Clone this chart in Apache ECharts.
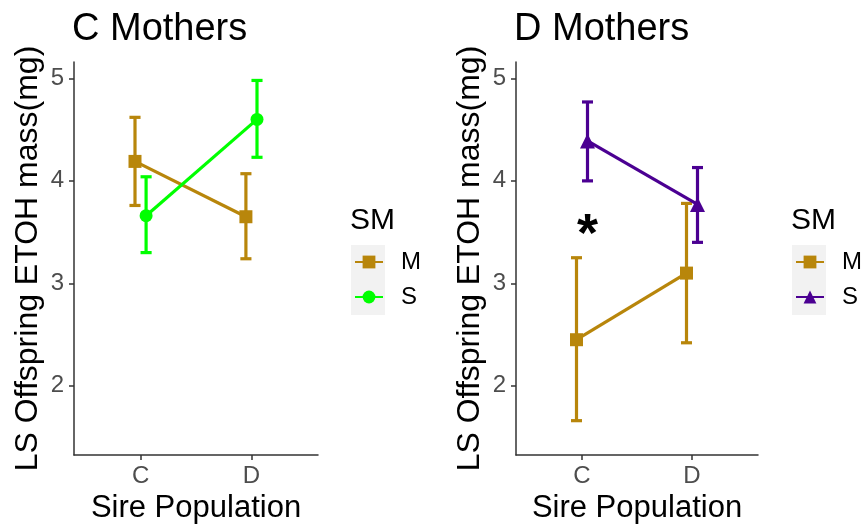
<!DOCTYPE html>
<html>
<head>
<meta charset="utf-8">
<script src="https://cdn.jsdelivr.net/npm/echarts@6/dist/echarts.min.js"></script>
<style>html,body{margin:0;padding:0;background:#fff}#c{width:865px;height:525px}</style>
</head>
<body>
<div id="c"></div>
<script>
// ---- data ----
const sirePopulation = ['C', 'D'];
const yTicks = [2, 3, 4, 5];
const panelTitles = ['C Mothers', 'D Mothers'];
// C mothers
const cM_mean = [4.19, 3.65];
const cM_low  = [3.76, 3.24];
const cM_high = [4.62, 4.07];
const cS_mean = [3.66, 4.60];
const cS_low  = [3.30, 4.23];
const cS_high = [4.04, 4.98];
// D mothers
const dM_mean = [2.45, 3.10];
const dM_low  = [1.66, 2.42];
const dM_high = [3.25, 3.78];
const dS_mean = [4.39, 3.77];
const dS_low  = [4.00, 3.40];
const dS_high = [4.77, 4.13];
// significance annotation (D mothers, sire C)
const sigMark = { cat: 'C', y: 3.59, text: '*' };

// ---- styling ----
const FONT = 'Liberation Sans, Arial, sans-serif';
const colM = '#B8860B';
const colSc = '#00FF00';
const colSd = '#4B0092';
const dodge = 0.05;
const capHalf = 0.05;
const LW = 3.2;
const glyphShift = 13; // asterisk glyph sits high in its em box

function xPos(i, off) { return i + 1 + off; }
function pts(mean, off) { return mean.map((v, i) => [xPos(i, off), v]); }
function bars(low, high, off) { return low.map((v, i) => [xPos(i, off), v, high[i]]); }

function errorSeries(name, low, high, off, color, idx) {
  return {
    type: 'custom', name: name + '-eb', xAxisIndex: idx, yAxisIndex: idx, z: 2,
    data: bars(low, high, off),
    encode: { x: 0, y: [1, 2] },
    renderItem: function (params, api) {
      const x = api.value(0), lo = api.value(1), hi = api.value(2);
      const pLo = api.coord([x, lo]), pHi = api.coord([x, hi]);
      const l = api.coord([x - capHalf, lo])[0], r = api.coord([x + capHalf, lo])[0];
      const st = { stroke: color, lineWidth: LW };
      return { type: 'group', children: [
        { type: 'line', shape: { x1: pLo[0], y1: pLo[1], x2: pHi[0], y2: pHi[1] }, style: st },
        { type: 'line', shape: { x1: l, y1: pLo[1], x2: r, y2: pLo[1] }, style: st },
        { type: 'line', shape: { x1: l, y1: pHi[1], x2: r, y2: pHi[1] }, style: st }
      ]};
    }
  };
}
function lineSeries(name, mean, off, color, symbol, size, idx) {
  return {
    type: 'line', name: name, xAxisIndex: idx, yAxisIndex: idx, z: 3,
    data: pts(mean, off), symbol: symbol, symbolSize: size,
    lineStyle: { color: color, width: LW }, itemStyle: { color: color },
    emphasis: { disabled: true }, animation: false
  };
}

function xAxis(idx) {
  return {
    type: 'value', gridIndex: idx, min: 0.4, max: 2.6,
    splitLine: { show: false },
    axisLine: { lineStyle: { color: '#333', width: 1.5 } },
    axisTick: { customValues: [1, 2], length: 5, lineStyle: { color: '#333', width: 1.5 } },
    axisLabel: { customValues: [1, 2], formatter: v => sirePopulation[Math.round(v) - 1] || '',
      color: '#4d4d4d', fontSize: 24, fontFamily: FONT, margin: 9 },
    name: 'Sire Population', nameLocation: 'middle', nameGap: 38,
    nameTextStyle: { color: '#000', fontSize: 31, fontFamily: FONT }
  };
}
function yAxis(idx) {
  return {
    type: 'value', gridIndex: idx, min: 1.325, max: 5.16,
    splitLine: { show: false },
    axisLine: { show: true, lineStyle: { color: '#333', width: 1.5 } },
    axisTick: { show: true, customValues: yTicks, length: 5, lineStyle: { color: '#333', width: 1.5 } },
    axisLabel: { customValues: yTicks, color: '#4d4d4d', fontSize: 24, fontFamily: FONT, margin: 10 },
    name: 'LS Offspring ETOH mass(mg)', nameLocation: 'middle', nameGap: 30,
    nameTextStyle: { color: '#000', fontSize: 32, fontFamily: FONT }
  };
}

const option = {
  backgroundColor: '#fff',
  animation: false,
  title: [
    { text: panelTitles[0], left: 72, top: 11, padding: 0, textStyle: { fontSize: 38, fontWeight: 'normal', color: '#000', fontFamily: FONT } },
    { text: panelTitles[1], left: 514, top: 11, padding: 0, textStyle: { fontSize: 38, fontWeight: 'normal', color: '#000', fontFamily: FONT } },
    { text: 'SM', left: 350, top: 206, padding: 0, textStyle: { fontSize: 30, fontWeight: 'normal', color: '#000', fontFamily: FONT } },
    { text: 'SM', left: 791, top: 206, padding: 0, textStyle: { fontSize: 30, fontWeight: 'normal', color: '#000', fontFamily: FONT } }
  ],
  graphic: [
    { type: 'rect', left: 351, top: 245, shape: { width: 34, height: 70 }, style: { fill: '#f2f2f2' }, z: -1 },
    { type: 'rect', left: 792, top: 245, shape: { width: 34, height: 70 }, style: { fill: '#f2f2f2' }, z: -1 }
  ],
  legend: [
    { data: ['C-M', 'C-S'], orient: 'vertical', left: 354, top: 250, padding: 0, itemWidth: 28, itemHeight: 16, itemGap: 11,
      formatter: n => n.split('-')[1], selectedMode: false,
      textStyle: { fontSize: 24, lineHeight: 24, color: '#000', fontFamily: FONT, padding: [0, 0, 0, 13] } },
    { data: ['D-M', 'D-S'], orient: 'vertical', left: 795, top: 250, padding: 0, itemWidth: 28, itemHeight: 16, itemGap: 11,
      formatter: n => n.split('-')[1], selectedMode: false,
      textStyle: { fontSize: 24, lineHeight: 24, color: '#000', fontFamily: FONT, padding: [0, 0, 0, 13] } }
  ],
  grid: [
    { left: 74, top: 62, width: 244, bottom: 70, outerBoundsMode: 'none', containLabel: false },
    { left: 516, top: 62, width: 242, bottom: 70, outerBoundsMode: 'none', containLabel: false }
  ],
  xAxis: [xAxis(0), xAxis(1)],
  yAxis: [yAxis(0), yAxis(1)],
  series: [
    errorSeries('C-M', cM_low, cM_high, -dodge, colM, 0),
    errorSeries('C-S', cS_low, cS_high, dodge, colSc, 0),
    lineSeries('C-M', cM_mean, -dodge, colM, 'rect', 13, 0),
    lineSeries('C-S', cS_mean, dodge, colSc, 'circle', 13, 0),
    errorSeries('D-M', dM_low, dM_high, -dodge, colM, 1),
    errorSeries('D-S', dS_low, dS_high, dodge, colSd, 1),
    lineSeries('D-M', dM_mean, -dodge, colM, 'rect', 13, 1),
    lineSeries('D-S', dS_mean, dodge, colSd, 'triangle', 15, 1),
    {
      type: 'custom', name: 'sig', xAxisIndex: 1, yAxisIndex: 1, z: 4,
      data: [[sirePopulation.indexOf(sigMark.cat) + 1 + dodge, sigMark.y]],
      renderItem: function (params, api) {
        const p = api.coord([api.value(0), api.value(1)]);
        return { type: 'text', x: p[0], y: p[1] + glyphShift,
          style: { text: sigMark.text, fill: '#000', font: 'bold 54px ' + FONT, textAlign: 'center', textVerticalAlign: 'middle' } };
      }
    }
  ]
};
const chart = echarts.init(document.getElementById('c'), null, { renderer: 'canvas' });
chart.setOption(option);
</script>
</body>
</html>
